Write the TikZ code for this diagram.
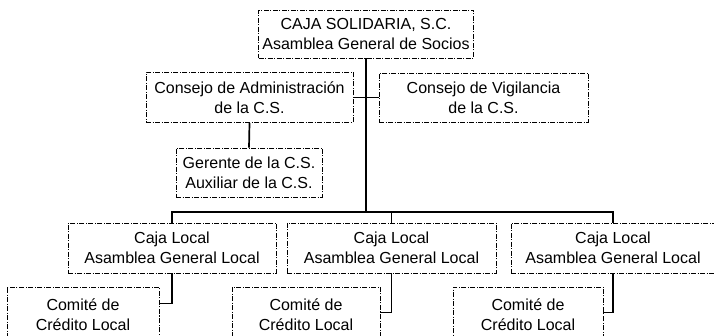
\documentclass[tikz,border=0pt]{standalone}
\usepackage{fontspec}
\setmainfont{Liberation Sans}

\begin{document}
\begin{tikzpicture}[x=1pt, y=-1pt,
    caja/.style={draw, dash pattern=on 5pt off 1.5pt on 1pt off 1.5pt, line width=0.7pt,
        align=center, inner sep=0pt, font=\fontsize{16}{20}\selectfont},
    enlace/.style={line width=1.7pt}]
    \useasboundingbox (0,0) rectangle (714,336);
    \clip (0,0) rectangle (714,336);

    % asamblea general
    \node[caja, minimum width=215pt, minimum height=48pt] (cs) at (366,34) {CAJA SOLIDARIA, S.C.\\Asamblea General de Socios};

    % consejos
    \node[caja, minimum width=207pt, minimum height=50pt] (admin) at (249.5,97.5) {Consejo de Administración\\de la C.S.};
    \node[caja, minimum width=209pt, minimum height=49pt] (vigil) at (483.5,97.5) {Consejo de Vigilancia\\de la C.S.};
    \node[caja, minimum width=146pt, minimum height=49pt] (gerente) at (249,172.5) {Gerente de la C.S.\\Auxiliar de la C.S.};

    % cajas locales
    \node[caja, minimum width=208pt, minimum height=50pt] (caja1) at (172,248) {Caja Local\\Asamblea General Local};
    \node[caja, minimum width=209pt, minimum height=50pt] (caja2) at (391.5,248) {Caja Local\\Asamblea General Local};
    \node[caja, minimum width=204pt, minimum height=50pt] (caja3) at (613,248) {Caja Local\\Asamblea General Local};

    % comites
    \node[caja, minimum width=152pt, minimum height=55pt] (com1) at (83,314.5) {Comité de\\Crédito Local};
    \node[caja, minimum width=148pt, minimum height=55pt] (com2) at (306,314.5) {Comité de\\Crédito Local};
    \node[caja, minimum width=150pt, minimum height=55pt] (com3) at (528,314.5) {Comité de\\Crédito Local};

    % lineas
    \coordinate (barra) at (0,212);
    \draw[enlace] (cs.south) -- (cs.south |- barra);
    \draw[enlace] (admin.east) -- (vigil.west);
    \draw[enlace] (admin.south) -- (gerente.north);
    \draw[enlace] (caja1.north) -- (caja1.north |- barra) -| (caja3.north);
    \draw[enlace] (caja2.north) -- (caja2.north |- barra);
    \draw[enlace] (caja1.south) |- ([yshift=11pt]com1.east);
    \draw[enlace] (caja2.south) |- ([yshift=2pt]com2.east);
    \draw[enlace] (caja3.south) |- ([yshift=2pt]com3.east);

\end{tikzpicture}
\end{document}
